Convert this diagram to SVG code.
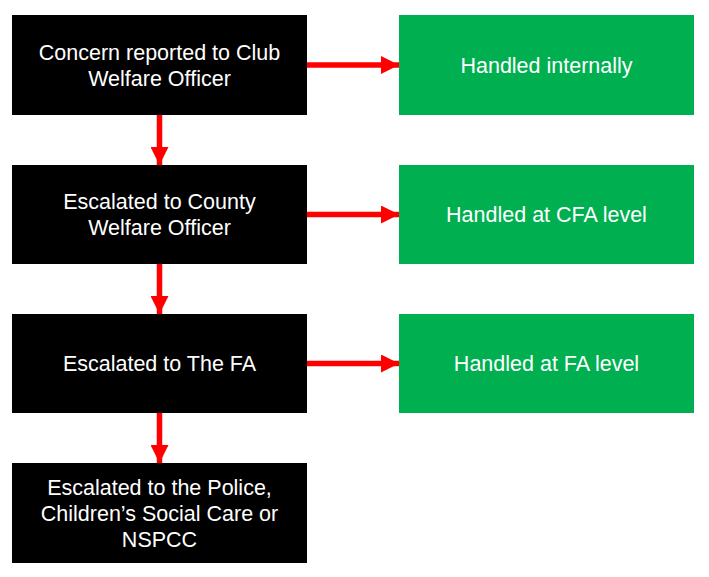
<svg xmlns="http://www.w3.org/2000/svg" width="709" height="577" viewBox="0 0 709 577">
  <style>
    .blk { fill: #000000; }
    .grn { fill: #00B050; }
    .t { font-family: "Liberation Sans", Arial, sans-serif; font-size: 21.5px; fill: #FFFFFF; text-anchor: middle; }
    .c { stroke: #FF0000; stroke-width: 5.5; fill: none; }
  </style>
  <defs>
    <marker id="ah" markerUnits="userSpaceOnUse" markerWidth="18" markerHeight="18" refX="18" refY="9" orient="auto">
      <path d="M0,0 L18,9 L0,18 Z" fill="#FF0000"/>
    </marker>
  </defs>
  <rect width="709" height="577" fill="#FFFFFF"/>
  <g id="connectors">
    <line class="c" x1="307" y1="65" x2="399" y2="65" marker-end="url(#ah)"/>
    <line class="c" x1="307" y1="214.5" x2="399" y2="214.5" marker-end="url(#ah)"/>
    <line class="c" x1="307" y1="363.5" x2="399" y2="363.5" marker-end="url(#ah)"/>
    <line class="c" x1="159.5" y1="115" x2="159.5" y2="165" marker-end="url(#ah)"/>
    <line class="c" x1="159.5" y1="264" x2="159.5" y2="314" marker-end="url(#ah)"/>
    <line class="c" x1="159.5" y1="413" x2="159.5" y2="463" marker-end="url(#ah)"/>
  </g>
  <g id="club">
    <rect class="blk" x="12" y="15" width="295" height="100"/>
    <text class="t" x="159.5" y="59.5">Concern reported to Club</text>
    <text class="t" x="159.5" y="85.5">Welfare Officer</text>
  </g>
  <g id="county">
    <rect class="blk" x="12" y="165" width="295" height="99"/>
    <text class="t" x="159.5" y="209">Escalated to County</text>
    <text class="t" x="159.5" y="235">Welfare Officer</text>
  </g>
  <g id="fa">
    <rect class="blk" x="12" y="314" width="295" height="99"/>
    <text class="t" x="159.5" y="371">Escalated to The FA</text>
  </g>
  <g id="police">
    <rect class="blk" x="12" y="463" width="295" height="100"/>
    <text class="t" x="159.5" y="495">Escalated to the Police,</text>
    <text class="t" x="159.5" y="521">Children’s Social Care or</text>
    <text class="t" x="159.5" y="547">NSPCC</text>
  </g>
  <g id="internal">
    <rect class="grn" x="399" y="15" width="295" height="100"/>
    <text class="t" x="546.5" y="72.5">Handled internally</text>
  </g>
  <g id="cfa">
    <rect class="grn" x="399" y="165" width="295" height="99"/>
    <text class="t" x="546.5" y="222">Handled at CFA level</text>
  </g>
  <g id="falevel">
    <rect class="grn" x="399" y="314" width="295" height="99"/>
    <text class="t" x="546.5" y="371">Handled at FA level</text>
  </g>
</svg>
